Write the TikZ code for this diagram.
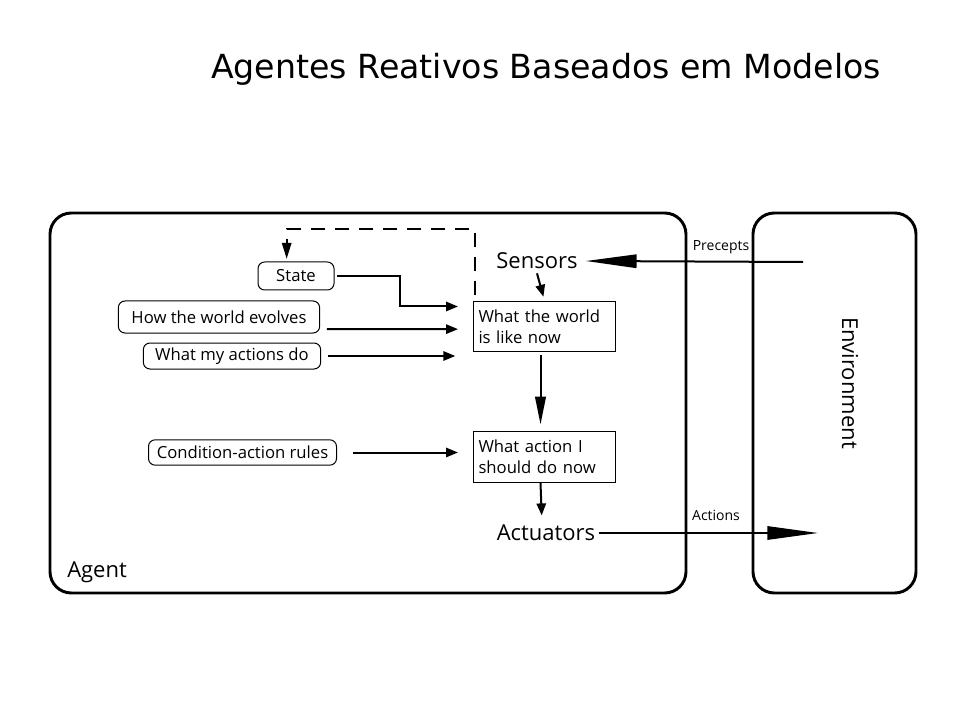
\documentclass[tikz,border=0pt]{standalone}
\usepackage{fontspec}
\setmainfont{Open Sans}
\newfontfamily\titlefont{DejaVu Sans}
\usetikzlibrary{arrows.meta}

\tikzset{
	frame/.style={draw, line width=2.2pt, rounded corners=16pt},
	textbox/.style={draw, line width=0.75pt, align=left, font=\fontsize{12.5}{16}\selectfont, inner sep=4pt},
	rulebox/.style={draw, line width=0.75pt, rounded corners=5pt, inner sep=0pt, font=\fontsize{12.5}{14}\selectfont},
	bigtext/.style={font=\fontsize{16.5}{19}\selectfont, inner sep=3pt},
	smalltext/.style={font=\fontsize{10.5}{12}\selectfont},
	flow/.style={line width=1.5pt, -{Triangle[length=9pt,width=7pt]}},
	wide/.style={line width=1.5pt, -{Triangle[length=38pt,width=10pt]}}
}

\begin{document}
\begin{tikzpicture}[x=0.75pt,y=-0.75pt]
	\useasboundingbox (0,0) rectangle (960,720);

	% title
	\node[font=\titlefont\fontsize{24.9}{28}\selectfont] (title) at (546,69) {Agentes Reativos Baseados em Modelos};

	% agent and environment
	\draw[frame] (50,213) rectangle (686,593);
	\draw[frame] (753,213) rectangle (916,593);
	\node[bigtext, anchor=south west] (agent) at (63,587) {Agent};
	\node[bigtext, rotate=-90] (env) at (850,383) {Environment};

	% inside the agent
	\node[bigtext] (sensors) at (537,261) {Sensors};
	\node[bigtext] (actuators) at (546,533) {Actuators};
	\node[textbox, minimum width=107pt, minimum height=38pt, text width=99pt] (world) at (544.5,326.5) {What the world\\is like now};
	\node[textbox, minimum width=107pt, minimum height=38pt, text width=99pt] (action) at (544.5,457) {What action I\\should do now};

	\node[rulebox, minimum width=57pt, minimum height=21pt] (state) at (296,276) {State};
	\node[rulebox, minimum width=151pt, minimum height=24pt] (evolves) at (219,317) {How the world evolves};
	\node[rulebox, minimum width=133pt, minimum height=19.5pt] (doing) at (232,356) {What my actions do};
	\node[rulebox, minimum width=141pt, minimum height=19pt] (rules) at (242.5,452.5) {Condition-action rules};

	% percepts and actions
	\coordinate (envin) at (803,262);
	\coordinate (envout) at (818,533);
	\node[smalltext] (precepts) at (721,247) {Precepts};
	\node[smalltext] (actions) at (716,515) {Actions};
	\draw[wide] (envin) -- ([xshift=3pt]sensors.east);
	\draw[wide] (actuators.east) -- (envout);

	% internal connectors
	\draw[flow, shorten >=3pt] (sensors.south) -- (world.north);
	\draw[line width=1.5pt, -{Triangle[length=21pt,width=8pt]}, shorten <=2pt, shorten >=5pt] ([xshift=-3pt]world.south) -- ([xshift=-3pt]action.north);
	\draw[flow, shorten >=6pt] ([xshift=-3pt]action.south) -- ([xshift=-3pt,yshift=-2pt]actuators.north);
	\draw[flow, shorten <=2pt, shorten >=11pt] (state.east) -- ++(65,0) |- ([yshift=15pt]world.west);
	\draw[flow, shorten <=5pt, shorten >=11pt] ([yshift=-9pt]evolves.east) -- ([yshift=-2pt]world.west);
	\draw[flow, shorten <=5pt, shorten >=13pt] (doing.east) -- (doing.east -| world.west);
	\draw[flow, shorten <=12pt, shorten >=11pt] (rules.east) -- (rules.east -| action.west);
	\draw[line width=1.5pt, dash pattern=on 11pt off 7pt, -{Triangle[length=12pt,width=7pt]}, shorten >=2pt] ([xshift=2pt,yshift=4pt]world.north west) -- ++(0,-66) -| ([xshift=-7pt]state.north);
\end{tikzpicture}
\end{document}
